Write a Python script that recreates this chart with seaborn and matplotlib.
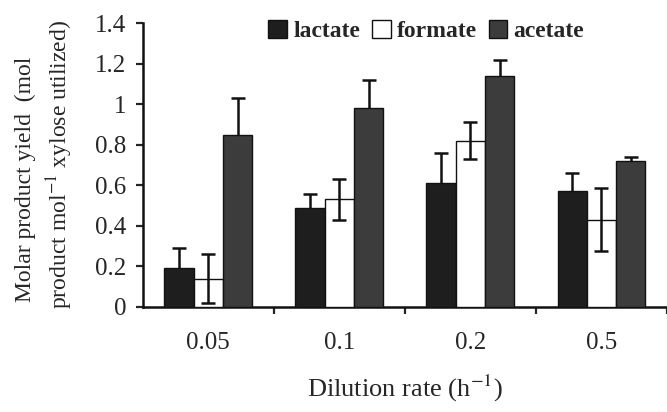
import numpy as np
import pandas as pd
import matplotlib
matplotlib.use("Agg")
import matplotlib.pyplot as plt
import seaborn as sns

# values
dilution_rates = ["0.05", "0.1", "0.2", "0.5"]
products = ["lactate", "formate", "acetate"]
lactate = [0.19, 0.49, 0.61, 0.57]
formate = [0.14, 0.53, 0.82, 0.43]
acetate = [0.85, 0.98, 1.14, 0.72]
lactate_err = [0.10, 0.065, 0.15, 0.09]
formate_err = [0.12, 0.10, 0.09, 0.155]
acetate_err = [0.18, 0.14, 0.08, 0.02]
y_ticks = [0, 0.2, 0.4, 0.6, 0.8, 1, 1.2, 1.4]
y_tick_labels = ["0", "0.2", "0.4", "0.6", "0.8", "1", "1.2", "1.4"]

colors = {"lactate": "#1e1e1e", "formate": "#ffffff", "acetate": "#3c3c3c"}

df = pd.DataFrame({
    "rate": dilution_rates * 3,
    "product": np.repeat(products, len(dilution_rates)),
    "yield": lactate + formate + acetate,
})
errs = {"lactate": lactate_err, "formate": formate_err, "acetate": acetate_err}

sns.set_style("ticks")
plt.rcParams["font.family"] = ["Liberation Serif", "DejaVu Serif"]
plt.rcParams["mathtext.fontset"] = "stix"

fig = plt.figure(figsize=(6.67, 4.12), dpi=100)
ax = fig.add_axes([0.214, 0.255, 0.786, 0.689])

sns.barplot(data=df, x="rate", y="yield", hue="product", hue_order=products,
            order=dilution_rates, palette=colors, width=0.67, errorbar=None,
            edgecolor="#111111", linewidth=1.0, saturation=1, ax=ax, zorder=3)

# error bars: behind the dark bars (so only the upper half shows), on top of formate
for cont, name in zip(ax.containers, products):
    xs = [p.get_x() + p.get_width() / 2 for p in cont.patches]
    ys = [p.get_height() for p in cont.patches]
    z = 4 if name == "formate" else 2
    ax.errorbar(xs, ys, yerr=errs[name], fmt="none", ecolor="#111111",
                elinewidth=1.8, capsize=5, capthick=1.8, zorder=z)

ax.set_ylim(0, 1.4)
ax.set_xlim(-0.5, 3.5)
ax.set_yticks(y_ticks)
ax.set_yticklabels(y_tick_labels, fontsize=18)
ax.set_xticks(range(len(dilution_rates)))
ax.set_xticklabels(dilution_rates, fontsize=18)
ax.tick_params(axis="x", length=0, pad=18)
ax.set_xticks([0.5, 1.5, 2.5, 3.5], minor=True)
ax.tick_params(axis="x", which="minor", length=5, width=1.6, direction="out")
ax.tick_params(axis="y", length=5, width=1.6, pad=7)
sns.despine(ax=ax, top=True, right=True)
for s in ["left", "bottom"]:
    ax.spines[s].set_linewidth(1.8)
    ax.spines[s].set_color("#111111")

ax.set_xlabel("Dilution rate (h$^{-1}$)", fontsize=19, labelpad=14)
fig.text(0.038, 0.565, "Molar product yield  (mol", rotation=90,
         fontsize=17, ha="center", va="center")
fig.text(0.09, 0.6, "product mol$^{-1}$ xylose utilized)", rotation=90,
         fontsize=17, ha="center", va="center")
ax.set_ylabel("")

handles, labels = ax.get_legend_handles_labels()
ax.legend(handles, labels, loc="center", bbox_to_anchor=(0.639, 0.925),
          bbox_transform=fig.transFigure, ncol=3, frameon=False,
          prop={"size": 17, "weight": "bold"}, handlelength=0.8,
          handleheight=0.8, handletextpad=0.25, columnspacing=0.5)

fig.savefig("out.png", dpi=100)
